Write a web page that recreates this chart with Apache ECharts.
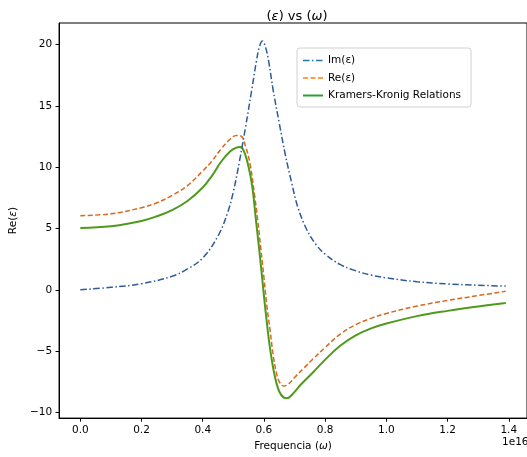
<!DOCTYPE html>
<html>
<head>
<meta charset="utf-8">
<script src="https://cdn.jsdelivr.net/npm/echarts@6.0.0/dist/echarts.min.js"></script>
<style>html,body{margin:0;padding:0;background:#fff;}#c{width:527px;height:457px;}</style>
</head>
<body>
<div id="c"></div>
<script>
// x in units of 1e16
const xIm = [0, 0.1, 0.2, 0.3, 0.35, 0.4, 0.45, 0.48, 0.5, 0.52, 0.54, 0.56, 0.575, 0.585, 0.595, 0.605, 0.615, 0.63, 0.65, 0.67, 0.69, 0.71, 0.74, 0.77, 0.8, 0.85, 0.9, 0.95, 1.0, 1.1, 1.2, 1.3, 1.39];
const yIm = [0, 0.2, 0.5, 1.1, 1.7, 2.6, 4.4, 6.2, 8.0, 10.5, 13.3, 16.3, 18.6, 19.8, 20.3, 19.8, 18.7, 16.3, 13.6, 11.0, 8.8, 6.8, 4.9, 3.7, 2.9, 2.05, 1.55, 1.2, 0.97, 0.66, 0.48, 0.37, 0.3];

const xRe = [0, 0.1, 0.2, 0.25, 0.3, 0.35, 0.4, 0.43, 0.46, 0.49, 0.51, 0.525, 0.54, 0.555, 0.57, 0.58, 0.59, 0.6, 0.61, 0.62, 0.63, 0.64, 0.65, 0.665, 0.68, 0.7, 0.73, 0.76, 0.8, 0.85, 0.9, 0.95, 1.0, 1.1, 1.2, 1.3, 1.39];
const yRe = [6.05, 6.2, 6.7, 7.1, 7.7, 8.5, 9.7, 10.5, 11.5, 12.3, 12.6, 12.55, 11.7, 10.2, 7.6, 5.6, 3.3, 1.0, -1.4, -3.3, -5.3, -6.7, -7.5, -7.85, -7.7, -7.15, -6.4, -5.65, -4.7, -3.6, -2.85, -2.33, -1.93, -1.33, -0.87, -0.47, -0.12];

const xKK = [0, 0.1, 0.2, 0.25, 0.3, 0.35, 0.4, 0.43, 0.46, 0.49, 0.51, 0.522, 0.535, 0.55, 0.562, 0.573, 0.58, 0.59, 0.6, 0.61, 0.62, 0.635, 0.65, 0.665, 0.675, 0.69, 0.72, 0.76, 0.8, 0.85, 0.9, 0.95, 1.0, 1.1, 1.2, 1.3, 1.39];
const yKK = [5.05, 5.18, 5.62, 6.0, 6.5, 7.25, 8.35, 9.3, 10.45, 11.3, 11.6, 11.65, 11.3, 10.0, 8.4, 5.9, 4.3, 2.0, -0.5, -2.8, -4.8, -7.0, -8.3, -8.8, -8.85, -8.6, -7.75, -6.75, -5.7, -4.55, -3.72, -3.15, -2.75, -2.15, -1.72, -1.36, -1.07];

const xTicks = [0, 0.2, 0.4, 0.6, 0.8, 1.0, 1.2, 1.4];
const yTicks = [-10, -5, 0, 5, 10, 15, 20];

const names = ['Im(ε)', 'Re(ε)', 'Kramers-Kronig Relations'];

function zip(xs, ys) { return xs.map((x, i) => [x, ys[i]]); }
const FONT = 'DejaVu Sans';
const FS = 10.5;
const it = {fontFamily: FONT, fontSize: FS, fontStyle: 'italic', color: '#000'};

const chart = echarts.init(document.getElementById('c'), null, {renderer: 'canvas'});
chart.setOption({
  animation: false,
  backgroundColor: '#fff',
  textStyle: {fontFamily: FONT},
  grid: {left: 56, right: -2.5, top: 23, bottom: 36, show: true, borderColor: '#000', borderWidth: 1, backgroundColor: 'transparent'},
  title: {
    text: '({i|ε}) vs ({i|ω})',
    left: 292, top: 5, textAlign: 'center',
    textStyle: {fontFamily: FONT, fontSize: 13, fontWeight: 'normal', color: '#000',
      rich: {i: {fontFamily: FONT, fontSize: 13, fontStyle: 'italic', color: '#000'}}}
  },
  legend: {
    orient: 'vertical', left: 297, top: 48,
    padding: [7, 10, 6, 5], itemWidth: 20, itemHeight: 11, itemGap: 6.5, itemTextGap: 14,
    borderColor: '#d0d0d0', borderWidth: 1, borderRadius: 3, backgroundColor: 'rgba(255,255,255,0.8)',
    textStyle: {fontFamily: FONT, fontSize: FS, color: '#000'},
    data: [
      {name: names[0], itemStyle: {opacity: 0}, lineStyle: {color: '#1f77b4', width: 1.5, type: [6.5, 2.5, 1.5, 2.5]}},
      {name: names[1], itemStyle: {opacity: 0}, lineStyle: {color: '#ff7f0e', width: 1.5, type: [5, 2.5]}},
      {name: names[2], itemStyle: {opacity: 0}, lineStyle: {color: '#2ca02c', width: 2, type: 'solid'}}
    ]
  },
  xAxis: {
    type: 'value', min: -0.0695, max: 1.4595,
    name: 'Frequencia ({i|ω})', nameLocation: 'middle', nameGap: 20,
    nameTextStyle: {fontFamily: FONT, fontSize: FS, color: '#000', rich: {i: it}},
    axisLine: {show: true, onZero: false, lineStyle: {color: '#000', width: 1}},
    axisTick: {show: true, length: 3.5, inside: false, customValues: xTicks, lineStyle: {color: '#000'}},
    axisLabel: {customValues: xTicks, margin: 7, fontFamily: FONT, fontSize: FS, color: '#000', formatter: v => v.toFixed(1)},
    splitLine: {show: false}
  },
  yAxis: {
    type: 'value', min: -10.47, max: 21.77,
    name: 'Re({i|ε})', nameLocation: 'middle', nameGap: 29,
    nameTextStyle: {fontFamily: FONT, fontSize: FS, color: '#000', rich: {i: it}},
    axisLine: {show: true, onZero: false, lineStyle: {color: '#000', width: 1}},
    axisTick: {show: true, length: 3.5, inside: false, customValues: yTicks, lineStyle: {color: '#000'}},
    axisLabel: {customValues: yTicks, margin: 7, fontFamily: FONT, fontSize: FS, color: '#000', formatter: v => String(v).replace('-', '\u2212')},
    splitLine: {show: false}
  },
  graphic: [
    {type: 'text', left: 502, top: 437, style: {text: '1e16', font: '10.5px "DejaVu Sans"', fill: '#000'}}
  ],
  series: [
    {name: names[0], type: 'line', data: zip(xIm, yIm), showSymbol: false, symbol: 'none', smooth: 0.4, z: 3,
      lineStyle: {color: '#2d5b9a', width: 1.5, type: [6.5, 2.5, 1.5, 2.5]}, itemStyle: {color: '#2d5b9a'}},
    {name: names[1], type: 'line', data: zip(xRe, yRe), showSymbol: false, symbol: 'none', smooth: 0.4, z: 2,
      lineStyle: {color: '#d9691c', width: 1.5, type: [5, 2.5]}, itemStyle: {color: '#d9691c'}},
    {name: names[2], type: 'line', data: zip(xKK, yKK), showSymbol: false, symbol: 'none', smooth: 0.4, z: 2,
      lineStyle: {color: '#4f9a1c', width: 2}, itemStyle: {color: '#4f9a1c'}}
  ]
});
</script>
</body>
</html>
